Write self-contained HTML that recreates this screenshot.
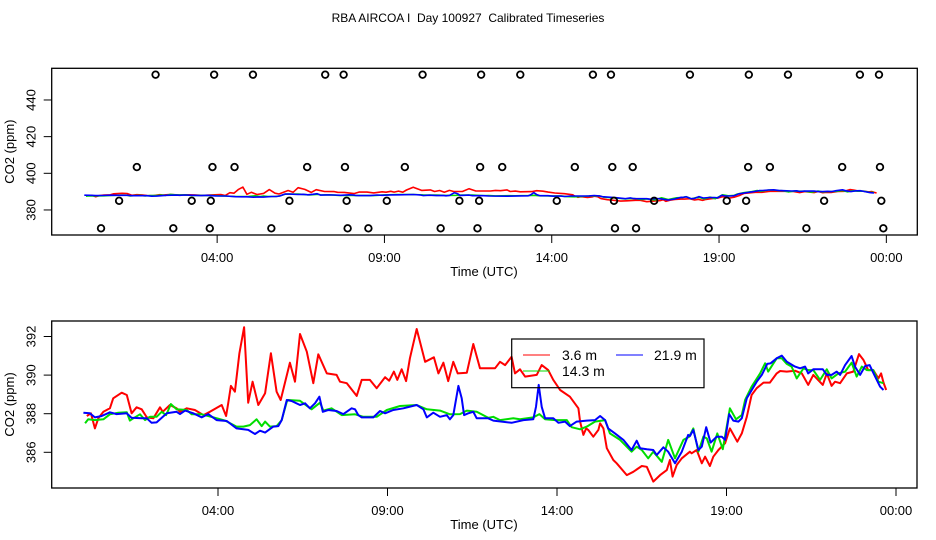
<!DOCTYPE html>
<html><head><meta charset="utf-8">
<style>
html,body{margin:0;padding:0;background:#fff;}
svg{display:block;font-family:"Liberation Sans",Arial,sans-serif;}
#title{white-space:pre;}
</style></head>
<body>
<svg id="chart" width="936" height="540" viewBox="0 0 936 540" xmlns="http://www.w3.org/2000/svg">
<text id="title" x="468" y="22" font-size="12" text-anchor="middle" xml:space="preserve">RBA AIRCOA I  Day 100927  Calibrated Timeseries</text>
<g id="top"></g>
<g id="bot"></g>
</svg>
<script>
// ---- data ----
const xTickHours = [4, 9, 14, 19, 24];
const xTickLabels = ["04:00", "09:00", "14:00", "19:00", "00:00"];
const topYTicks = [380, 400, 420, 440];
const botYTicks = [386, 388, 390, 392];
const seriesNames = ["3.6 m", "14.3 m", "21.9 m"];
const seriesColors = ["#ff0000", "#00dd00", "#0000ff"];

const redHours = [0.13,0.25,0.37,0.47,0.62,0.81,0.91,1.16,1.31,1.45,1.60,1.75,1.90,2.09,2.29,2.37,2.58,2.78,2.88,3.08,3.32,3.57,3.76,4.11,4.24,4.30,4.38,4.50,4.63,4.77,4.89,5.02,5.19,5.39,5.56,5.73,5.85,6.12,6.27,6.42,6.62,6.81,6.96,7.21,7.50,7.60,7.80,8.09,8.24,8.48,8.68,8.93,9.05,9.19,9.29,9.42,9.55,9.66,9.86,10.11,10.37,10.50,10.65,10.79,10.94,11.07,11.34,11.53,11.73,12.17,12.32,12.47,12.66,12.76,12.91,13.06,13.40,13.55,13.74,13.89,14.09,14.38,14.63,14.68,14.78,14.86,14.92,15.07,15.22,15.27,15.37,15.47,15.66,15.76,16.06,16.25,16.50,16.65,16.84,17.04,17.24,17.33,17.41,17.53,17.68,17.92,17.97,18.12,18.27,18.37,18.51,18.61,18.76,18.96,19.10,19.32,19.45,19.60,19.74,19.89,20.09,20.28,20.48,20.58,20.78,21.02,21.22,21.41,21.56,21.84,21.96,22.10,22.20,22.35,22.55,22.74,22.91,23.04,23.18,23.33,23.48,23.56,23.63,23.71];
const redValues = [387.88,388.02,387.24,387.76,388.10,388.28,388.80,389.09,388.97,388.02,388.33,388.23,387.81,387.76,388.33,388.10,388.45,388.28,388.10,388.28,388.19,387.93,388.10,388.45,387.88,388.54,389.44,389.14,391.13,392.48,388.57,389.66,388.45,389.06,391.13,389.14,388.71,390.64,389.66,392.13,391.21,389.58,391.08,390.09,390.01,389.66,389.58,388.92,389.75,389.75,389.32,389.89,389.71,390.18,389.75,390.30,389.69,390.87,392.39,390.69,390.92,390.09,390.64,389.69,390.69,390.09,390.12,391.61,390.35,390.35,390.69,390.52,390.95,390.09,390.30,389.92,390.01,390.52,390.26,389.75,389.23,388.88,388.28,387.59,386.90,387.24,387.16,386.81,387.16,387.50,387.24,386.21,385.60,385.43,384.82,384.99,385.29,385.25,384.48,384.82,385.08,385.60,384.74,385.34,385.69,386.03,385.95,386.12,385.43,385.77,385.29,385.77,386.12,386.47,387.24,386.55,386.98,387.84,388.97,389.32,389.61,389.61,390.09,390.21,390.18,390.23,390.09,389.49,390.01,389.49,390.09,389.44,389.66,389.58,390.09,390.18,391.09,390.78,390.26,390.26,389.83,390.09,389.61,389.23];

const greenHours = [0.08,0.17,0.37,0.62,0.81,1.06,1.31,1.40,1.50,1.70,1.85,1.99,2.19,2.34,2.47,2.61,2.78,3.08,3.22,3.52,3.86,4.21,4.55,4.75,4.94,5.14,5.29,5.39,5.53,5.73,5.88,6.03,6.07,6.42,6.76,7.01,7.11,7.35,7.65,8.04,8.29,8.68,8.98,9.37,9.86,10.16,10.55,10.84,11.14,11.34,11.63,11.97,12.12,12.32,12.71,12.91,13.30,13.48,13.65,13.94,14.29,14.43,14.68,14.88,15.12,15.42,15.56,15.86,16.20,16.35,16.50,16.69,16.84,17.09,17.28,17.48,17.73,17.90,18.02,18.17,18.32,18.42,18.56,18.73,18.89,19.10,19.28,19.45,19.55,19.74,19.99,20.14,20.23,20.48,20.63,20.78,20.92,21.07,21.27,21.41,21.56,21.76,21.96,22.10,22.30,22.50,22.69,22.84,22.99,23.14,23.33,23.48,23.63];
const greenValues = [387.50,387.71,387.67,387.71,387.97,388.05,388.07,387.64,387.76,387.97,387.67,387.84,387.84,388.10,387.93,388.50,388.23,388.19,387.97,387.97,387.81,387.64,387.33,387.33,387.41,387.71,387.36,387.59,387.33,387.36,387.67,388.62,388.71,388.67,388.23,388.57,388.16,388.28,387.93,387.97,387.84,387.84,388.19,388.40,388.45,388.23,388.16,387.97,387.98,388.16,388.10,387.79,387.84,387.67,387.76,387.71,387.81,387.98,387.71,387.67,387.67,387.30,387.19,387.33,387.59,387.67,386.98,386.64,386.03,386.29,386.12,385.69,386.03,385.51,386.64,385.69,386.64,386.81,387.24,386.03,386.81,386.72,386.03,386.98,386.16,388.28,387.71,387.93,388.71,389.40,390.09,390.61,390.18,390.87,390.87,390.58,390.44,389.83,390.35,390.26,390.26,389.75,390.30,389.83,390.09,390.18,390.64,389.92,390.44,390.26,390.26,389.66,389.58];

const blueHours = [0.03,0.22,0.37,0.57,0.81,1.01,1.31,1.45,1.75,1.90,2.04,2.19,2.49,2.78,2.88,3.03,3.27,3.52,3.71,3.96,4.26,4.55,4.75,4.89,5.09,5.24,5.39,5.63,5.78,5.88,6.03,6.17,6.42,6.57,6.71,6.86,6.99,7.09,7.25,7.50,7.70,7.94,8.04,8.14,8.24,8.58,8.78,8.93,9.17,9.47,9.86,10.06,10.16,10.35,10.55,10.75,10.84,10.94,11.09,11.19,11.26,11.38,11.53,11.63,11.97,12.12,12.66,13.01,13.30,13.38,13.46,13.55,13.65,13.89,14.04,14.24,14.38,14.58,14.88,15.12,15.27,15.42,15.51,15.71,15.96,16.20,16.35,16.45,16.65,16.84,16.94,17.14,17.28,17.48,17.68,17.87,17.92,18.02,18.17,18.27,18.40,18.53,18.71,18.86,18.96,19.08,19.20,19.35,19.45,19.60,19.89,20.04,20.14,20.20,20.30,20.48,20.63,20.78,21.02,21.17,21.32,21.41,21.56,21.84,21.96,22.10,22.25,22.35,22.50,22.69,22.79,22.94,23.09,23.22,23.34,23.53,23.63];
const blueValues = [388.05,388.02,387.81,387.88,388.07,387.98,388.02,387.79,387.76,387.76,387.53,387.55,388.02,388.10,387.98,388.16,388.02,387.81,387.98,387.67,387.62,387.24,387.19,387.16,386.95,387.12,387.02,387.33,387.36,387.67,388.71,388.66,388.45,388.54,388.28,388.54,388.88,388.10,388.19,388.14,387.98,388.28,388.23,387.93,387.81,387.81,388.14,388.02,388.19,388.28,388.45,388.23,387.81,388.05,387.84,387.93,387.71,387.93,389.44,388.80,387.93,388.02,388.10,387.76,387.76,387.64,387.53,387.67,387.71,388.36,389.49,388.36,387.76,387.76,387.53,387.59,387.36,387.59,387.64,387.67,387.88,387.67,387.24,386.98,386.64,386.12,386.60,386.21,386.16,386.12,385.86,386.26,386.03,385.43,386.03,386.90,386.84,387.16,386.12,386.29,387.30,386.50,386.81,386.81,386.64,387.98,387.64,387.59,387.76,388.80,389.66,390.01,390.35,390.58,390.61,390.87,391.01,390.69,390.44,390.35,390.44,390.09,390.30,390.30,390.01,390.01,390.18,390.01,390.52,390.99,390.44,390.01,390.47,390.52,390.09,389.40,389.23];

// reference/flag circles in top panel
const circleHours = [2.16,3.91,5.07,7.23,7.78,10.14,11.89,13.06,15.23,15.77,18.13,19.89,21.06,23.21,23.78,
 1.60,3.86,4.52,6.69,7.82,9.61,11.86,12.52,14.69,15.81,16.42,19.87,20.52,22.68,23.81,
 1.07,3.24,3.81,6.16,7.87,9.07,11.24,11.83,14.15,15.86,17.06,19.23,19.81,22.14,23.85,
 0.53,2.69,3.78,5.62,7.90,8.52,10.68,11.78,13.61,15.89,16.52,18.69,19.77,21.61,23.91];
const circleValues = [453.8,453.8,453.8,453.8,453.8,453.8,453.8,453.8,453.8,453.8,453.8,453.8,453.8,453.8,453.8,
 403.4,403.4,403.4,403.4,403.4,403.4,403.4,403.4,403.4,403.4,403.4,403.4,403.4,403.4,403.4,
 385,385,385,385,385,385,385,385,385,385,385,385,385,385,385,
 370,370,370,370,370,370,370,370,370,370,370,370,370,370,370];

// ---- drawing ----
const NS = "http://www.w3.org/2000/svg";
function mk(tag, attrs, parent){const e=document.createElementNS(NS,tag);for(const k in attrs)e.setAttribute(k,attrs[k]);parent.appendChild(e);return e;}

const panels = [
 {g:document.getElementById('top'), L:51.7,R:917.3,T:68.3,B:235, x0:83.3, pxh:33.46, v0:400, y0:173.3, ppv:1.833, yt:topYTicks, lw:1.6, prefix:'top'},
 {g:document.getElementById('bot'), L:51.7,R:917,T:321,B:488, x0:82.4, pxh:33.9, v0:388, y0:413.7, ppv:19.3, yt:botYTicks, lw:2, prefix:'bottom'}
];
const seriesH=[redHours,greenHours,blueHours], seriesV=[redValues,greenValues,blueValues];
const drawOrder=[0,1,2];

panels.forEach(p=>{
  const xs=h=>p.x0+h*p.pxh, ys=v=>p.y0-(v-p.v0)*p.ppv;
  const box=mk('rect',{x:p.L,y:p.T,width:p.R-p.L,height:p.B-p.T,fill:'none',stroke:'#000','stroke-width':1.3},p.g);
  
  
  xTickHours.forEach((h,i)=>{
    const x=xs(h);
    const t=mk('line',{x1:x,x2:x,y1:p.B,y2:p.B+8,stroke:'#000','stroke-width':1},p.g);
    
    
    const tx=mk('text',{x:x,y:p.B+27,'font-size':13,'text-anchor':'middle'},p.g);
    tx.textContent=xTickLabels[i];
    
    
  });
  p.yt.forEach(v=>{
    const y=ys(v);
    const t=mk('line',{x1:p.L-8,x2:p.L,y1:y,y2:y,stroke:'#000','stroke-width':1},p.g);
    
    
    const tx=mk('text',{x:0,y:0,'font-size':13,'text-anchor':'middle',transform:`translate(${p.L-16},${y}) rotate(-90)`},p.g);
    tx.textContent=String(v);
    
    
  });
  const xl=mk('text',{x:484,y:p.B+41,'font-size':13,'text-anchor':'middle'},p.g);
  xl.textContent='Time (UTC)';
  
  
  const yl=mk('text',{x:0,y:0,'font-size':13,'text-anchor':'middle',transform:`translate(14,${(p.T+p.B)/2}) rotate(-90)`},p.g);
  yl.textContent='CO2 (ppm)';
  
  

  drawOrder.forEach(si=>{
    const pts=seriesH[si].map((h,i)=>xs(h).toFixed(1)+','+ys(seriesV[si][i]).toFixed(1)).join(' ');
    const pl=mk('polyline',{points:pts,fill:'none',stroke:seriesColors[si],'stroke-width':p.lw,'stroke-linejoin':'round'},p.g);
    
    
  });

  if(p.prefix==='top'){
    circleHours.forEach((h,i)=>{
      const c=mk('circle',{cx:xs(h),cy:ys(circleValues[i]),r:3.3,fill:'none',stroke:'#000','stroke-width':1.8},p.g);
      
      
    });
  }
});

// legend (bottom panel)
const bot=document.getElementById('bot');
const leg=mk('g',{},bot);


const lr=mk('rect',{x:511.7,y:339,width:192.3,height:48.7,fill:'none',stroke:'#000','stroke-width':1.2},leg);


const legPos=[[523,355,562],[523,371,562],[616,355,654]];
seriesNames.forEach((n,i)=>{
  const [lx,ly,tx]=legPos[i];
  const ln=mk('line',{x1:lx,x2:lx+27,y1:ly,y2:ly,stroke:seriesColors[i],'stroke-width':1},leg);
  
  
  const t=mk('text',{x:tx,y:ly+5,'font-size':14},leg);
  t.textContent=n;
  
  
});
</script>
</body></html>
